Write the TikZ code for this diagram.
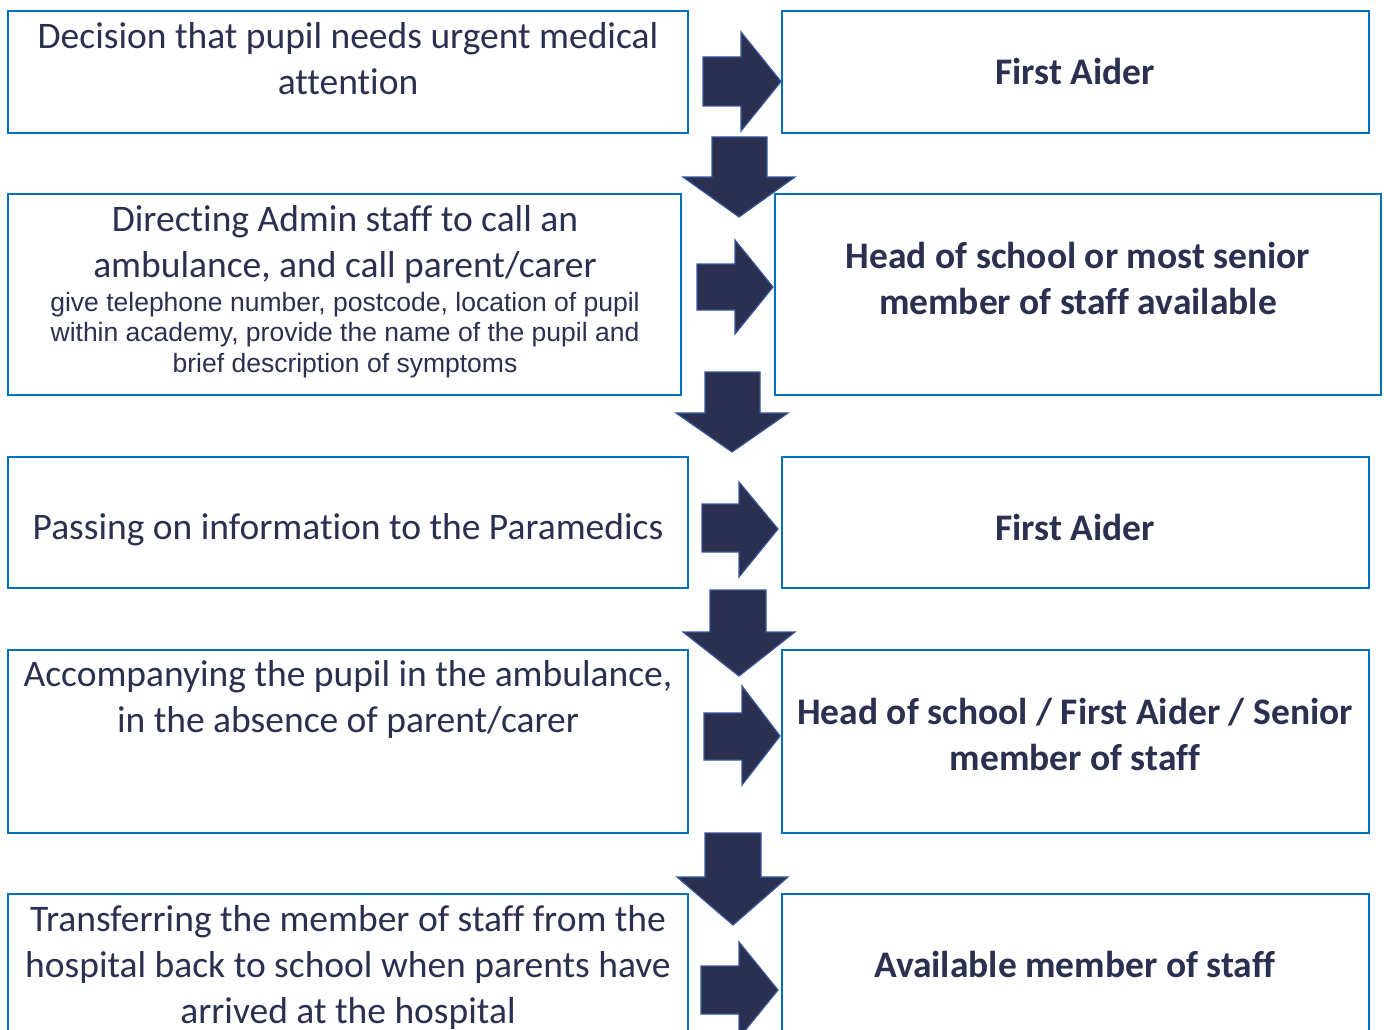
\documentclass[tikz,border=0pt]{standalone}
\usepackage{fontspec}
\setmainfont[Ligatures=NoCommon]{Carlito}
\newfontfamily\arialfont{Liberation Sans}
\definecolor{boxblue}{HTML}{0070C0}
\definecolor{navy}{HTML}{2B3050}
\definecolor{arrowedge}{HTML}{35569A}
\begin{document}
\begin{tikzpicture}[x=1pt,y=-1pt,
  box/.style={draw=boxblue,line width=2pt,fill=white},
  blockarrow/.style={fill=navy,draw=arrowedge,line width=1.2pt,line join=miter},
  big/.style={text=navy,font=\fontsize{37.5}{46}\selectfont,align=center,anchor=base},
  bigb/.style={text=navy,font=\fontsize{37.5}{46}\selectfont\bfseries,align=center,anchor=base},
  small/.style={text=navy,font=\arialfont\fontsize{26.5}{30.5}\selectfont,align=center,anchor=base}]
\useasboundingbox (0,0) rectangle (1384,1030);
% boxes
\draw[box] (8,11) rectangle (688,133);
\draw[box] (782,11) rectangle (1369,133);
\draw[box] (8,194) rectangle (681,395);
\draw[box] (775,194) rectangle (1381,395);
\draw[box] (8,457) rectangle (688,588);
\draw[box] (782,457) rectangle (1369,588);
\draw[box] (8,650) rectangle (688,833);
\draw[box] (782,650) rectangle (1369,833);
\draw[box] (8,894) rectangle (688,1040);
\draw[box] (782,894) rectangle (1369,1040);
% texts (anchor = baseline of last line)
\node[big] (t1) at (348,95) {Decision that pupil needs urgent medical\\attention};
\node[bigb] (r1) at (1075,85) {First Aider};
\node[big] (t2) at (345,277) {Directing Admin staff to call an\\ambulance, and call parent/carer};
\node[small] (t2s) at (345,372) {give telephone number, postcode, location of pupil\\within academy, provide the name of the pupil and\\brief description of symptoms};
\node[bigb] (r2) at (1078,314) {Head of school or most senior\\member of staff available};
\node[big] (t3) at (348,539) {Passing on information to the Paramedics};
\node[bigb] (r3) at (1075,540) {First Aider};
\node[big] (t4) at (348,732) {Accompanying the pupil in the ambulance,\\in the absence of parent/carer};
\node[bigb] (r4) at (1075,770) {Head of school / First Aider / Senior\\member of staff};
\node[big] (t5) at (348,1023) {Transferring the member of staff from the\\hospital back to school when parents have\\arrived at the hospital};
\node[bigb] (r5) at (1075,977) {Available member of staff};
% right arrows
\draw[blockarrow] (703,57) -- (741,57) -- (741,32) -- (781,81.5) -- (741,131) -- (741,106) -- (703,106) -- cycle;
\draw[blockarrow] (697,264) -- (735,264) -- (735,240) -- (773,287) -- (735,334) -- (735,310) -- (697,310) -- cycle;
\draw[blockarrow] (702,504) -- (739,504) -- (739,482) -- (778,529) -- (739,577) -- (739,552) -- (702,552) -- cycle;
\draw[blockarrow] (704,713) -- (742,713) -- (742,686) -- (780,736) -- (742,785) -- (742,760) -- (704,760) -- cycle;
\draw[blockarrow] (701,966) -- (739,966) -- (739,942) -- (778,990) -- (739,1038) -- (739,1014) -- (701,1014) -- cycle;
% down arrows
\draw[blockarrow] (712,137) -- (767,137) -- (767,177) -- (795,177) -- (739,217) -- (683,177) -- (712,177) -- cycle;
\draw[blockarrow] (705,372) -- (760,372) -- (760,413) -- (788,413) -- (732,452) -- (676,413) -- (705,413) -- cycle;
\draw[blockarrow] (710,590) -- (766,590) -- (766,632) -- (795,632) -- (739,676) -- (683,632) -- (710,632) -- cycle;
\draw[blockarrow] (705,833) -- (761,833) -- (761,877) -- (788,877) -- (733,925) -- (677,877) -- (705,877) -- cycle;
\end{tikzpicture}
\end{document}
